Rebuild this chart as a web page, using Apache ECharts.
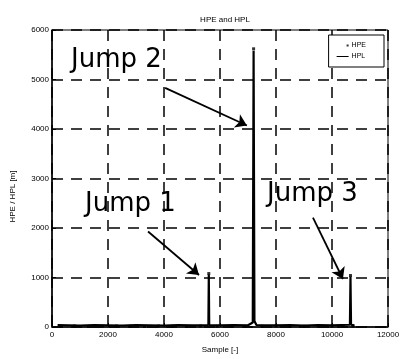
<!DOCTYPE html>
<html>
<head>
<meta charset="utf-8">
<script src="https://cdn.jsdelivr.net/npm/echarts@6/dist/echarts.min.js"></script>
<style>
  html, body { margin: 0; padding: 0; background: #fff; }
  #chart { width: 403px; height: 359px; }
</style>
</head>
<body>
<div id="chart"></div>
<script>
// HPL: line (sample index / metres)
const hplSample = [200, 600, 1000, 1500, 2000, 2500, 3000, 3500, 4000, 4500, 5000, 5585, 5600, 5615, 6000, 6500, 7000, 7170, 7200, 7230, 7300, 8000, 8500, 9000, 9500, 10000, 10640, 10660, 10680, 10800];
const hplValue = [40, 35, 30, 40, 35, 30, 40, 35, 30, 40, 35, 40, 1060, 40, 35, 40, 35, 90, 5580, 120, 40, 35, 40, 30, 40, 35, 45, 1020, 45, 35];

// HPE: dots
const hpeSample = [300, 800, 1300, 1800, 2300, 2800, 3300, 3800, 4300, 4800, 5300, 5600, 5900, 6400, 6900, 7200, 7500, 8000, 8500, 9000, 9500, 10000, 10400, 10660, 10750];
const hpeValue = [15, 20, 10, 15, 20, 15, 10, 20, 15, 10, 20, 1080, 15, 20, 10, 5620, 15, 20, 10, 15, 20, 15, 20, 1040, 15];

// annotation arrows [fromSample, fromValue, toSample, toValue]
const jumpNames = ['Jump 1', 'Jump 2', 'Jump 3'];
const jumpArrows = [
  [3430, 1930, 5250, 1050],
  [4040, 4830, 6960, 4070],
  [9320, 2210, 10390, 970]
];

const xTicks = { min: 0, max: 12000, interval: 2000 };
const yTicks = { min: 0, max: 6000, interval: 1000 };

const chart = echarts.init(document.getElementById('chart'));

const axisCommon = {
  axisLine: { show: true, lineStyle: { color: '#000', width: 1.5 } },
  axisTick: { show: true, inside: true, length: 4, lineStyle: { color: '#000' } },
  axisLabel: { color: '#000', fontSize: 8, fontFamily: 'Liberation Sans', formatter: v => String(v) },
  splitLine: { show: true, lineStyle: { color: '#000', type: [11, 8], width: 1.5 } },
  nameTextStyle: { color: '#000', fontSize: 8, fontFamily: 'Liberation Sans' }
};

const options = {
  animation: false,
  backgroundColor: '#fff',
  title: {
    text: 'HPE and HPL',
    left: 220,
    textAlign: 'center',
    top: 11,
    textStyle: { fontSize: 8, fontWeight: 'normal', color: '#000', fontFamily: 'Liberation Sans' }
  },
  legend: {
    orient: 'vertical',
    right: 19,
    top: 35,
    padding: [7, 18, 7, 8],
    itemGap: 4,
    itemWidth: 12,
    itemHeight: 6,
    borderColor: '#000',
    borderWidth: 1,
    backgroundColor: '#fff',
    selectedMode: false,
    textStyle: { fontSize: 7, color: '#000', fontFamily: 'Liberation Sans', padding: [0, 0, 0, -2] },
    data: [
      { name: 'HPE', icon: 'path://M0 0M0 6M10 2h2v2h-2z', itemStyle: { color: '#000' } },
      { name: 'HPL', icon: 'path://M0 0M0 6M0 2.5h12v1h-12z', itemStyle: { color: '#000' } }
    ]
  },
  grid: { left: 52, right: 15, top: 30, bottom: 29, show: true, borderColor: '#000', borderWidth: 1 },
  xAxis: Object.assign({}, axisCommon, {
    type: 'value',
    min: xTicks.min, max: xTicks.max, interval: xTicks.interval,
    name: 'Sample [-]',
    nameLocation: 'middle',
    nameGap: 19,
    axisLabel: Object.assign({}, axisCommon.axisLabel, { margin: 4 })
  }),
  yAxis: Object.assign({}, axisCommon, {
    type: 'value',
    min: yTicks.min, max: yTicks.max, interval: yTicks.interval,
    name: 'HPE / HPL [m]',
    nameLocation: 'middle',
    nameGap: 35,
    nameTextStyle: Object.assign({}, axisCommon.nameTextStyle, { padding: [0, 0, 0, -36] }),
    axisLabel: Object.assign({}, axisCommon.axisLabel, { margin: 3 })
  }),
  series: [
    {
      name: 'HPE',
      type: 'scatter',
      symbol: 'rect',
      symbolSize: 3,
      itemStyle: { color: '#000' },
      silent: true,
      z: 3,
      data: hpeSample.map((s, i) => [s, hpeValue[i]])
    },
    {
      name: 'HPL',
      type: 'line',
      showSymbol: false,
      symbol: 'none',
      lineStyle: { color: '#000', width: 2.2 },
      itemStyle: { color: '#000' },
      silent: true,
      z: 4,
      data: hplSample.map((s, i) => [s, hplValue[i]]),
      markLine: {
        silent: true,
        symbol: ['none', 'arrow'],
        symbolSize: 11,
        label: { show: false },
        lineStyle: { color: '#000', width: 1.8, type: 'solid' },
        data: jumpArrows.map(a => [{ coord: [a[0], a[1]] }, { coord: [a[2], a[3]] }])
      }
    }
  ],
  graphic: [
    { type: 'text', x: 85, y: 204, style: { text: jumpNames[0], fontSize: 26, fontFamily: 'DejaVu Sans', fill: '#000', verticalAlign: 'middle' } },
    { type: 'text', x: 71, y: 60, style: { text: jumpNames[1], fontSize: 26, fontFamily: 'DejaVu Sans', fill: '#000', verticalAlign: 'middle' } },
    { type: 'text', x: 267, y: 194, style: { text: jumpNames[2], fontSize: 26, fontFamily: 'DejaVu Sans', fill: '#000', verticalAlign: 'middle' } }
  ]
};

chart.setOption(options);
</script>
</body>
</html>
